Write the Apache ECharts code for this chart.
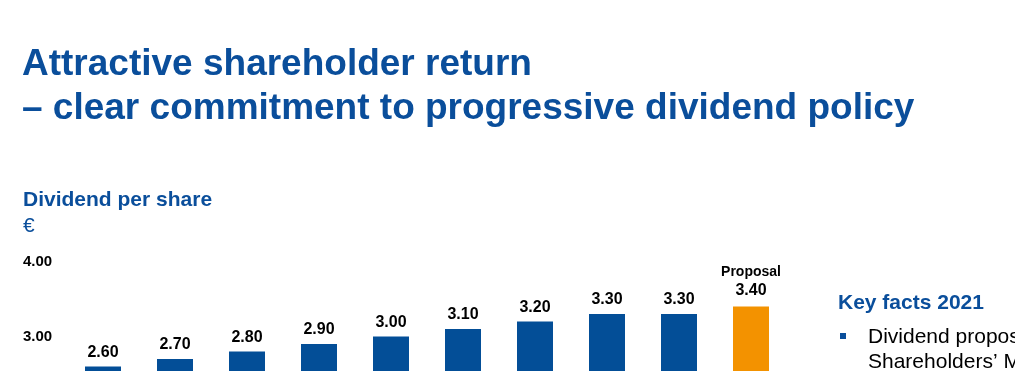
<!DOCTYPE html>
<html>
<head>
<meta charset="utf-8">
<script src="https://cdn.jsdelivr.net/npm/echarts@6/dist/echarts.min.js"></script>
<style>
html,body{margin:0;padding:0;background:#fff;}
#chart{width:1015px;height:371px;}
</style>
</head>
<body>
<div id="chart"></div>
<script>
const categories = ['2012','2013','2014','2015','2016','2017','2018','2019','2020','2021'];
const dividends = [2.60, 2.70, 2.80, 2.90, 3.00, 3.10, 3.20, 3.30, 3.30, 3.40];
const proposalIndex = 9;
const yTicks = { min: 0, max: 4, interval: 1 };

const BLUE = '#034e97';
const TEXTBLUE = '#0a4e9b';
const ORANGE = '#f39200';
const FONT = '"Liberation Sans", Arial, sans-serif';

const chart = echarts.init(document.getElementById('chart'), null, {renderer: 'canvas'});

const barData = dividends.map((v, i) => {
  if (i === proposalIndex) {
    return {
      value: v,
      itemStyle: { color: ORANGE },
      label: {
        formatter: (p) => '{p|Proposal}\n{v|' + p.value.toFixed(2) + '}',
        rich: {
          p: { fontSize: 14, fontWeight: 'bold', color: '#000', fontFamily: FONT, lineHeight: 19 },
          v: { fontSize: 16, fontWeight: 'bold', color: '#000', fontFamily: FONT, lineHeight: 19 }
        }
      }
    };
  }
  return { value: v };
});

chart.setOption({
  animation: false,
  backgroundColor: '#fff',
  grid: { left: 67, width: 720, top: 261.5, height: 300, containLabel: false, outerBoundsMode: 'none' },
  xAxis: {
    type: 'category',
    data: categories,
    axisLine: { show: false },
    axisTick: { show: false },
    axisLabel: { show: false }
  },
  yAxis: {
    type: 'value',
    min: yTicks.min, max: yTicks.max, interval: yTicks.interval,
    axisLine: { show: false },
    axisTick: { show: false },
    splitLine: { show: false },
    axisLabel: {
      formatter: (v) => v.toFixed(2),
      align: 'left',
      margin: 44,
      fontSize: 15,
      fontWeight: 'bold',
      color: '#000',
      fontFamily: FONT
    }
  },
  series: [{
    type: 'bar',
    data: barData,
    barWidth: 36,
    itemStyle: { color: BLUE },
    label: {
      show: true,
      position: 'top',
      distance: 6,
      formatter: (p) => p.value.toFixed(2),
      fontSize: 16,
      fontWeight: 'bold',
      color: '#000',
      fontFamily: FONT
    }
  }],
  graphic: [
    { type: 'text', left: 22, top: 46, style: { text: 'Attractive shareholder return', font: 'bold 37px ' + FONT, fill: TEXTBLUE } },
    { type: 'text', left: 22, top: 90, style: { text: '\u2013 clear commitment to progressive dividend policy', font: 'bold 37px ' + FONT, fill: TEXTBLUE } },
    { type: 'text', left: 23, top: 190, style: { text: 'Dividend per share', font: 'bold 21px ' + FONT, fill: TEXTBLUE } },
    { type: 'text', left: 23, top: 216, style: { text: '\u20ac', font: '21px ' + FONT, fill: TEXTBLUE } },
    { type: 'text', left: 838, top: 293, style: { text: 'Key facts 2021', font: 'bold 21px ' + FONT, fill: TEXTBLUE } },
    { type: 'rect', shape: { x: 840, y: 333, width: 6, height: 6 }, style: { fill: TEXTBLUE } },
    { type: 'text', left: 868, top: 327, style: { text: 'Dividend proposal to the Annual', font: '21px ' + FONT, fill: '#000' } },
    { type: 'text', left: 868, top: 352, style: { text: 'Shareholders\u2019 Meeting', font: '21px ' + FONT, fill: '#000' } }
  ]
});
</script>
</body>
</html>
